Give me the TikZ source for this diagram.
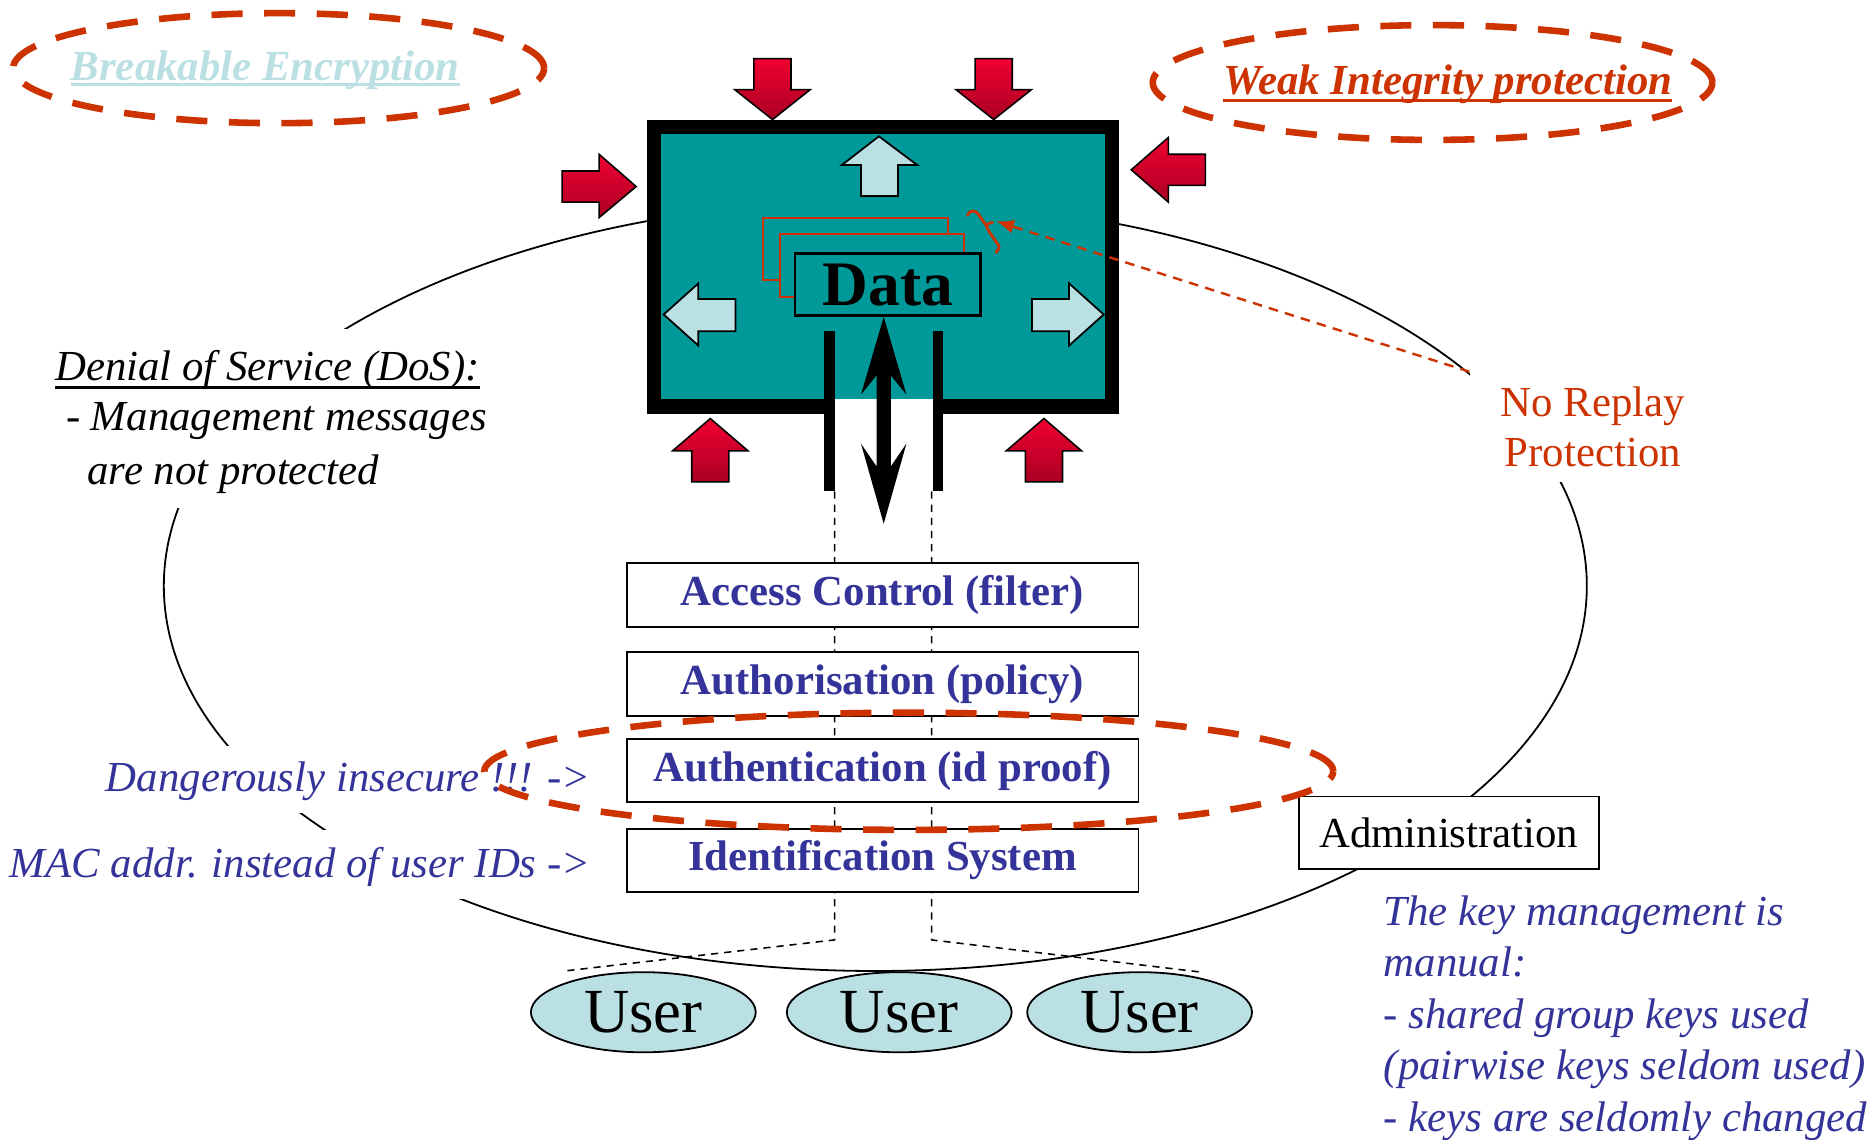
\documentclass[tikz,border=0pt]{standalone}
\usepackage{fontspec}
\setmainfont{Liberation Serif}
\usetikzlibrary{shapes.geometric,arrows.meta}
\definecolor{teal1}{RGB}{0,153,153}
\definecolor{lblue}{RGB}{187,224,227}
\definecolor{rust}{RGB}{204,51,0}
\definecolor{navy1}{RGB}{51,51,153}
\definecolor{redA}{RGB}{240,0,50}
\definecolor{redB}{RGB}{170,0,35}
\tikzset{
  big/.style={font=\fontsize{35.8}{42}\selectfont},
  plaintxt/.style={big, inner sep=0pt},
  ittxt/.style={font=\fontsize{35.8}{42}\selectfont\itshape, inner sep=0pt},
  bitxt/.style={font=\fontsize{35.8}{42}\selectfont\bfseries\itshape, inner sep=0pt},
  cover/.style={fill=white, inner xsep=4pt, inner ysep=0pt},
  layer/.style={draw, line width=1.5pt, fill=white, minimum width=428pt, minimum height=53pt,
    inner sep=0pt, font=\fontsize{35.8}{42}\selectfont\bfseries, text=navy1},
  userell/.style={ellipse, draw, line width=1.5pt, fill=lblue, minimum width=188pt,
    minimum height=67pt, inner sep=0pt, font=\fontsize{52.5}{60}\selectfont},
  redarr/.style={draw=black, line width=1.3pt, top color=redA, bottom color=redB},
  bluearr/.style={draw=black, line width=1.5pt, fill=lblue},
  threat/.style={rust, line width=5.5pt, dash pattern=on 26pt off 18pt},
  userline/.style={line width=1.3pt, dash pattern=on 6pt off 5pt},
  ulineA/.style={line width=2.5pt},
  stackrect/.style={draw=rust, line width=1.6pt, fill=teal1}
}
\begin{document}
\begin{tikzpicture}[x=1pt,y=-1pt]
\useasboundingbox (0,0) rectangle (1568,953);

% large surrounding ellipse
\draw[line width=1.5pt] (732,490) ellipse [x radius=595pt, y radius=322pt];

% white backings of the texts on the ellipse
\node[fill=white, minimum width=372pt, minimum height=150pt, inner sep=0pt] (dosbg) at (224,350) {};
\node[plaintxt, cover, text=navy1, anchor=base east, text height=38pt, text depth=18pt,
  font=\fontsize{35.8}{42}\selectfont\itshape] (dang) at (498,662) {Dangerously insecure !!! ->};
\node[plaintxt, cover, text=navy1, anchor=base east, text height=40pt, text depth=18pt,
  font=\fontsize{35.8}{42}\selectfont\itshape] (mac) at (498,734) {MAC addr. instead of user IDs ->};
\node[big, fill=white, text=rust, align=center, minimum width=206pt, minimum height=92pt,
  inner sep=0pt] (noreplay) at (1332,357) {No Replay\\Protection};
\node[big, draw, line width=1.5pt, fill=white, minimum width=251pt, minimum height=61pt,
  inner sep=0pt] (admin) at (1211.5,696.5) {Administration};

% DoS text
\node[ittxt, anchor=base west] (dos1) at (46,318) {Denial of Service (DoS):};
\draw[ulineA] ([yshift=-6pt]dos1.base west) -- ([yshift=-6pt]dos1.base east);
\node[ittxt, anchor=base west] (dos2) at (55,360) {- Management messages};
\node[ittxt, anchor=base west] (dos3) at (73,405) {are not protected};

% dashed user links
\coordinate (lb) at (698,411);
\coordinate (lk) at (698,786);
\coordinate (lu) at (472,812);
\coordinate (rb) at (779,411);
\coordinate (rk) at (779,786);
\coordinate (ru) at (1005,813);
\draw[userline] (lb) -- (lk) -- (lu);
\draw[userline] (rb) -- (rk) -- (ru);

% layer boxes
\node[layer] (acc) at (738,497.5) {Access Control (filter)};
\node[layer] (autz) at (738,572) {Authorisation (policy)};
\node[layer] (auth) at (738,644.5) {Authentication (id proof)};
\node[layer] (ident) at (738,719.5) {Identification System};

% users
\node[userell] (u1) at (538,846.5) {User};
\node[userell] (u2) at (752,846.5) {User};
\node[userell] (u3) at (953,846.5) {User};

% main box
\fill[teal1] (547,106) rectangle (930,334);
\draw[line width=12pt, line join=miter] (693,340) -- (547,340) -- (547,106) -- (930,106) -- (930,340) -- (785,340);
\fill (689,277) rectangle (698,411);
\fill (780,277) rectangle (789,411);

% inner light blue arrows
\draw[bluearr] (735,114) -- (767,138) -- (751,138) -- (751,164) -- (720,164) -- (720,138) -- (704,138) -- cycle;
\draw[bluearr] (555,263) -- (584,237) -- (584,250) -- (615,250) -- (615,277) -- (584,277) -- (584,289) -- cycle;
\draw[bluearr] (923,263) -- (894,237) -- (894,250) -- (863,250) -- (863,277) -- (894,277) -- (894,289) -- cycle;

% stacked data
\draw[stackrect] (638,182) rectangle (793,234);
\draw[stackrect] (652,196) rectangle (806,248);
\node[draw, line width=2pt, fill=teal1, minimum width=155pt, minimum height=52pt, inner sep=0pt,
  font=\fontsize{53}{60}\selectfont\bfseries] (data) at (742.5,238) {Data};

% broken seal
\coordinate (seal) at (833,185);
\draw[rust, line width=2.4pt, line cap=round, line join=round]
  (809,180) .. controls (811,175) and (816,176) .. (818,179) -- (825,189)
  .. controls (826,192) and (827,193) .. (828,195) -- (835,205) .. controls (836,207) .. (833,211);
\draw[rust, line width=2.4pt, line cap=round] (825,189) .. controls (826,187) .. (830,186);

% double arrow
\fill (739,265) -- (758,330) -- (745,314) -- (745,390) -- (758,371) -- (739,438) -- (720,371)
  -- (733,390) -- (733,314) -- (720,330) -- cycle;

% red attack arrows
\foreach \cx in {646,831}{
  \draw[redarr] (\cx-15.5,49) -- (\cx+15.5,49) -- (\cx+15.5,75) -- (\cx+31.5,75) -- (\cx,100)
    -- (\cx-31.5,75) -- (\cx-15.5,75) -- cycle;
}
\foreach \cx in {594,873}{
  \draw[redarr] (\cx-15.5,403) -- (\cx+15.5,403) -- (\cx+15.5,377) -- (\cx+31.5,377) -- (\cx,350)
    -- (\cx-31.5,377) -- (\cx-15.5,377) -- cycle;
}
\draw[redarr] (470,143) -- (501,143) -- (501,129) -- (532,156) -- (501,182) -- (501,169) -- (470,169) -- cycle;
\draw[redarr] (1008,129) -- (977,129) -- (977,115) -- (946,142) -- (977,169) -- (977,155) -- (1008,155) -- cycle;

% threat ellipses and labels
\draw[threat] (233,57) ellipse [x radius=222pt, y radius=46pt];
\node[bitxt, text=lblue, anchor=base west] (brk) at (59,67) {Breakable Encryption};
\draw[ulineA, lblue] ([yshift=-4pt]brk.base west) -- ([yshift=-4pt]brk.base east);

\draw[threat] (1198,69) ellipse [x radius=234pt, y radius=48pt];
\node[bitxt, text=rust, anchor=base west] (weak) at (1023,79) {Weak Integrity protection};
\draw[ulineA, rust] ([yshift=-5pt]weak.base west) -- ([yshift=-5pt]weak.base east);

\draw[threat] (760,645) ellipse [x radius=355pt, y radius=49pt];

% replay pointer
\draw[rust, line width=2pt, dash pattern=on 8pt off 6pt, -{Latex[length=15pt,width=12pt]}]
  (noreplay.north west) -- (seal);

% key management text
\node[ittxt, text=navy1, anchor=base west] (km1) at (1157,774) {The key management is};
\node[ittxt, text=navy1, anchor=base west] (km2) at (1157,817) {manual:};
\node[ittxt, text=navy1, anchor=base west] (km3) at (1157,860) {- shared group keys used};
\node[ittxt, text=navy1, anchor=base west] (km4) at (1157,903) {(pairwise keys seldom used)};
\node[ittxt, text=navy1, anchor=base west] (km5) at (1157,946) {- keys are seldomly changed};
\end{tikzpicture}
\end{document}
